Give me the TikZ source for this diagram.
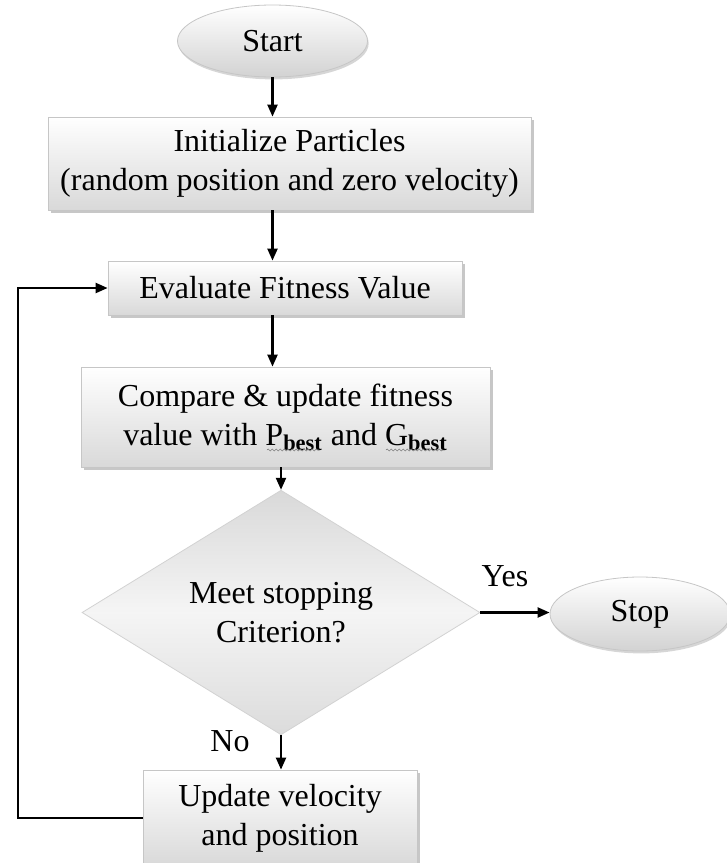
\documentclass[tikz,border=0pt]{standalone}
\usepackage{fontspec}
\setmainfont{Liberation Serif}
\usetikzlibrary{shapes.geometric,arrows.meta,shadows,decorations.pathmorphing}

\begin{document}
\begin{tikzpicture}[x=0.5pt,y=-0.5pt,
    font=\fontsize{16}{19.5}\selectfont,
    box/.style={rectangle,draw=gray!45,line width=0.4pt,top color=white,bottom color=gray!30,
      inner sep=0pt,align=center,
      drop shadow={shadow xshift=1.4pt,shadow yshift=-1.4pt,fill=gray!80,opacity=.55}},
    term/.style={ellipse,draw=gray!45,line width=0.4pt,top color=white,bottom color=gray!35,
      inner sep=0pt,
      drop shadow={shadow xshift=0.6pt,shadow yshift=-1.2pt,fill=gray!80,opacity=.4}},
    decide/.style={diamond,draw=gray!35,line width=0.4pt,top color=gray!30,bottom color=gray!28,
      middle color=gray!8,inner sep=0pt,align=center},
    flow/.style={-{Triangle[length=6pt,width=5pt]},line width=1.1pt},
    spell/.style={gray,line width=0.3pt,decorate,decoration={snake,amplitude=0.5pt,segment length=2pt}}]
    \useasboundingbox (0,0) rectangle (727,863);
    \clip (0,0) rectangle (727,863);

    \node[term,minimum width=95pt,minimum height=36pt] (start) at (272.5,41) {Start};
    \node[box,minimum width=241.5pt,minimum height=46.5pt] (init) at (289.5,163.5)
      {Initialize Particles\\(random position and zero velocity)};
    \node[box,minimum width=177pt,minimum height=27pt] (eval) at (285,288) {Evaluate Fitness Value};
    \node[box,minimum width=204.5pt,minimum height=50pt] (comp) at (285.5,417)
      {Compare \& update fitness\\value with P\textsubscript{\textbf{best}} and G\textsubscript{\textbf{best}}};
    \node[decide,minimum width=199pt,minimum height=102.5pt] (check) at (281,612.5)
      {Meet stopping\\Criterion?};
    \node[term,minimum width=90pt,minimum height=37pt] (stop) at (640,614) {Stop};
    \node[box,minimum width=137pt,minimum height=48pt] (update) at (280,818)
      {Update velocity\\and position};
    \node (yes) at (505,576) {Yes};
    \node (no) at (230,741) {No};
    \coordinate (loop) at (18,818);

    \draw[spell] (267,450) -- (319,450);
    \draw[spell] (386,450) -- (443,450);

    \draw[flow] (start.south) -- (start.south |- init.north);
    \draw[flow] (init.south -| start) -- (start |- eval.north);
    \draw[flow] (eval.south -| start) -- (start |- comp.north);
    \draw[flow] (comp.south -| check) -- (check.north);
    \draw[flow] (check.south) -- (check.south |- update.north);
    \draw[flow] (check.east) -- (check.east -| stop.west);
    \draw[flow] (update.west) -- (loop) |- (eval.west);
  \end{tikzpicture}
\end{document}
